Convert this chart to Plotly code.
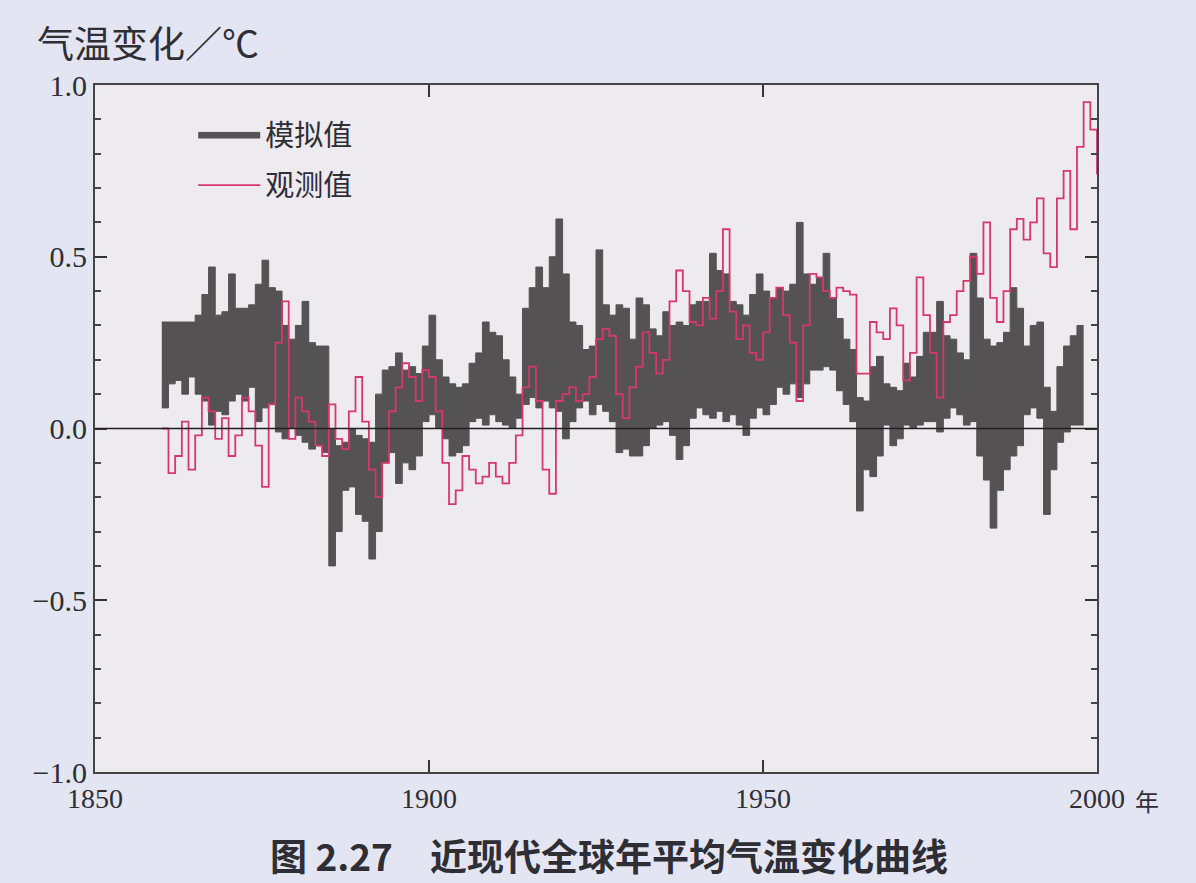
import plotly.graph_objects as go

# ---------------- data ----------------
sim_years = list(range(1860, 1998))
sim_upper = [0.31, 0.31, 0.31, 0.31, 0.31, 0.33, 0.39, 0.47, 0.33, 0.34,
             0.45, 0.35, 0.35, 0.36, 0.42, 0.49, 0.41, 0.40, 0.30, 0.26,
             0.30, 0.37, 0.25, 0.24, 0.24, 0.00, -0.05, -0.04, 0.00, -0.02,
             -0.03, -0.04, 0.10, 0.17, 0.18, 0.22, 0.17, 0.18, 0.16, 0.24,
             0.33, 0.20, 0.15, 0.13, 0.12, 0.13, 0.19, 0.22, 0.31, 0.28,
             0.27, 0.20, 0.15, 0.10, 0.35, 0.41, 0.47, 0.41, 0.50, 0.61,
             0.45, 0.31, 0.30, 0.23, 0.24, 0.52, 0.36, 0.33, 0.36, 0.35,
             0.26, 0.38, 0.36, 0.29, 0.27, 0.34, 0.30, 0.31, 0.30, 0.36,
             0.37, 0.37, 0.51, 0.46, 0.45, 0.37, 0.36, 0.33, 0.39, 0.45,
             0.40, 0.38, 0.41, 0.40, 0.42, 0.60, 0.45, 0.42, 0.44, 0.51,
             0.38, 0.32, 0.26, 0.23, 0.09, 0.08, 0.18, 0.21, 0.13, 0.12,
             0.11, 0.19, 0.15, 0.21, 0.28, 0.28, 0.37, 0.27, 0.26, 0.22,
             0.20, 0.51, 0.38, 0.26, 0.24, 0.25, 0.28, 0.41, 0.35, 0.24,
             0.30, 0.31, 0.12, 0.05, 0.18, 0.24, 0.27, 0.30]
sim_lower = [0.06, 0.13, 0.14, 0.10, 0.15, 0.10, 0.08, 0.01, 0.05, 0.04,
             0.08, 0.10, 0.08, 0.12, 0.02, 0.06, 0.07, -0.01, -0.03, 0.00,
             -0.02, -0.04, -0.06, -0.05, -0.07, -0.40, -0.30, -0.18, -0.17, -0.25,
             -0.27, -0.38, -0.30, -0.10, -0.07, -0.16, -0.10, -0.12, -0.08, 0.02,
             0.04, 0.00, -0.03, -0.08, -0.07, -0.05, 0.02, 0.03, 0.01, 0.04,
             0.02, 0.01, 0.00, 0.03, 0.07, 0.09, 0.06, 0.08, 0.06, 0.05,
             -0.03, 0.02, 0.06, 0.08, 0.04, 0.07, 0.05, 0.02, -0.07, -0.06,
             -0.08, -0.08, -0.05, 0.00, 0.01, 0.02, -0.02, -0.09, -0.05, 0.03,
             0.06, 0.04, 0.03, 0.05, 0.02, 0.04, 0.01, -0.02, 0.03, 0.06,
             0.04, 0.07, 0.12, 0.10, 0.13, 0.09, 0.13, 0.17, 0.17, 0.18,
             0.17, 0.11, 0.07, 0.02, -0.24, -0.12, -0.14, -0.08, 0.01, -0.05,
             -0.03, 0.01, 0.00, 0.01, 0.02, 0.02, -0.01, 0.03, 0.06, 0.04,
             0.01, 0.02, -0.08, -0.15, -0.29, -0.18, -0.12, -0.08, -0.05, 0.04,
             0.06, 0.03, -0.25, -0.12, -0.04, -0.01, 0.01, 0.01]

obs_years = list(range(1860, 2001))
obs_values = [0.00, -0.13, -0.08, 0.02, -0.12, -0.02, 0.09, 0.05, -0.03, 0.03,
              -0.08, -0.02, 0.09, 0.05, -0.05, -0.17, 0.07, 0.25, 0.37, -0.03,
              0.09, 0.05, 0.02, -0.05, -0.08, 0.07, -0.03, -0.06, 0.05, 0.15,
              0.02, -0.12, -0.20, -0.10, 0.05, 0.12, 0.19, 0.15, 0.08, 0.17,
              0.15, 0.05, -0.10, -0.22, -0.18, -0.08, -0.12, -0.16, -0.14, -0.10,
              -0.14, -0.16, -0.10, -0.02, 0.12, 0.18, 0.08, -0.12, -0.19, 0.08,
              0.10, 0.12, 0.08, 0.10, 0.15, 0.26, 0.29, 0.27, 0.10, 0.03,
              0.12, 0.18, 0.28, 0.22, 0.16, 0.20, 0.37, 0.46, 0.40, 0.31,
              0.30, 0.38, 0.32, 0.40, 0.58, 0.34, 0.26, 0.30, 0.22, 0.20,
              0.28, 0.38, 0.41, 0.33, 0.25, 0.08, 0.30, 0.45, 0.44, 0.40,
              0.38, 0.41, 0.40, 0.39, 0.16, 0.16, 0.31, 0.28, 0.26, 0.35,
              0.30, 0.14, 0.22, 0.44, 0.33, 0.22, 0.09, 0.31, 0.33, 0.40,
              0.43, 0.50, 0.45, 0.60, 0.38, 0.31, 0.40, 0.58, 0.61, 0.55,
              0.60, 0.67, 0.51, 0.47, 0.67, 0.75, 0.58, 0.82, 0.95, 0.87,
              0.74]

x_tick_vals = [1850, 1900, 1950, 2000]
y_tick_vals = [-1.0, -0.5, 0.0, 0.5, 1.0]
y_tick_text = ["−1.0", "−0.5", "0.0", "0.5", "1.0"]

series_names = ["模拟值", "观测值"]
y_title = "气温变化／℃"
x_unit = "年"
caption = "图 2.27　近现代全球年平均气温变化曲线"

# step traces: close the last year so the final step has width
sx = sim_years + [sim_years[-1] + 1]
su = sim_upper + [sim_upper[-1]]
sl = sim_lower + [sim_lower[-1]]

GRAY = "#555253"
RED = "#d6386c"
TEXT = "#2e2e34"

fig = go.Figure()
fig.add_trace(go.Scatter(x=sx, y=sl, mode="lines", line=dict(color=GRAY, width=1, shape="hv"),
                         showlegend=False, hoverinfo="skip", legendgroup="a"))
fig.add_trace(go.Scatter(x=sx, y=su, mode="lines", line=dict(color=GRAY, width=1, shape="hv"),
                         fill="tonexty", fillcolor=GRAY, name=series_names[0], legendgroup="a"))
fig.add_trace(go.Scatter(x=obs_years, y=obs_values, mode="lines",
                         line=dict(color=RED, width=1.8, shape="hv"), name=series_names[1],
                         legendgroup="b"))

fig.add_shape(type="line", xref="paper", x0=0, x1=1, yref="y", y0=0, y1=0,
              line=dict(color="#222", width=1.6), layer="above")

fig.update_layout(
    width=1196, height=883,
    paper_bgcolor="#e3e5f2",
    plot_bgcolor="#edeaf0",
    margin=dict(l=95, r=99, t=85, b=111),
    showlegend=True,
    legend=dict(x=0.098, y=0.965, xanchor="left", yanchor="top", traceorder="grouped",
                bgcolor="rgba(0,0,0,0)", font=dict(family="Noto Sans CJK SC", size=29, color=TEXT),
                itemwidth=62, tracegroupgap=10),
    font=dict(family="Liberation Serif", color=TEXT),
    annotations=[
        dict(text=y_title, xref="paper", yref="paper", x=-0.06, y=1.063,
             xanchor="left", yanchor="middle", showarrow=False,
             font=dict(family="Noto Sans CJK SC", size=37, color=TEXT)),
        dict(text=x_unit, xref="paper", yref="paper", x=1.050, y=-0.041,
             xanchor="center", yanchor="middle", showarrow=False,
             font=dict(family="Noto Sans CJK SC", size=24, color=TEXT)),
        dict(text="<b>" + caption + "</b>", xref="paper", yref="paper", x=0.513, y=-0.121,
             xanchor="center", yanchor="middle", showarrow=False,
             font=dict(family="Noto Sans CJK SC", size=37, color=TEXT)),
    ],
)
fig.update_xaxes(range=[1850, 2000], tickvals=x_tick_vals, ticks="inside", ticklen=12,
                 tickwidth=2, tickcolor="#333", showline=True, linecolor="#444", linewidth=2,
                 mirror="ticks", showgrid=False, zeroline=False,
                 tickfont=dict(family="Liberation Serif", size=28, color=TEXT))
fig.update_yaxes(range=[-1, 1], tickvals=y_tick_vals, ticktext=y_tick_text, ticks="inside",
                 ticklen=12, tickwidth=2, tickcolor="#333", showline=True, linecolor="#444",
                 linewidth=2, mirror="ticks", showgrid=False, zeroline=False,
                 minor=dict(dtick=0.1, ticks="inside", ticklen=6, tickcolor="#444", showgrid=False),
                 tickfont=dict(family="Liberation Serif", size=30, color=TEXT))

fig.write_html("out.html", config={"displayModeBar": False},
               post_script="document.body.style.margin='0';document.body.style.padding='0';")
